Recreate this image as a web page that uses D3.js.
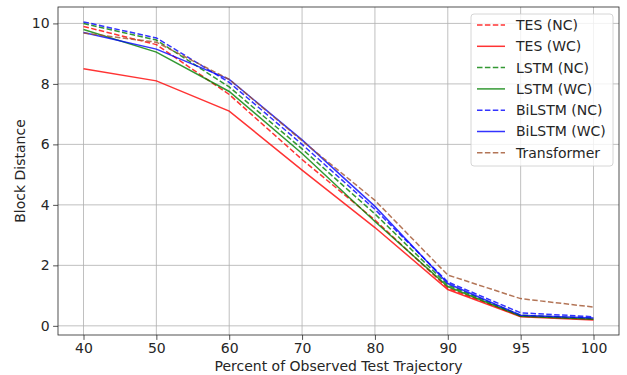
<!DOCTYPE html>
<html>
<head>
<meta charset="utf-8">
<script src="https://cdn.jsdelivr.net/npm/d3@7"></script>
<style>
  body { margin: 0; background: #fff; }
  svg text { font-family: "DejaVu Sans", sans-serif; fill: #262626; }
</style>
</head>
<body>
<div id="chart"></div>
<script>
// x categories (percent of observed trajectory)
var percents = ["40", "50", "60", "70", "80", "90", "95", "100"];

// series values
var tesNC = [9.9, 9.3, 7.65, 5.5, 3.5, 1.25, 0.32, 0.22];
var tesWC = [8.5, 8.1, 7.1, 5.15, 3.25, 1.2, 0.3, 0.19];
var lstmNC = [10.0, 9.45, 7.9, 5.85, 3.7, 1.35, 0.35, 0.25];
var lstmWC = [9.8, 9.05, 7.75, 5.7, 3.45, 1.3, 0.32, 0.22];
var bilstmNC = [10.05, 9.52, 8.05, 6.0, 3.85, 1.45, 0.43, 0.3];
var bilstmWC = [9.7, 9.15, 8.15, 6.15, 3.95, 1.4, 0.35, 0.26];
var transformer = [9.68, 9.38, 8.15, 6.12, 4.15, 1.68, 0.9, 0.62];

var yTicks = [0, 2, 4, 6, 8, 10];

var series = [
    { name: "TES (NC)", values: tesNC, color: "#ff0000", dashed: true },
    { name: "TES (WC)", values: tesWC, color: "#ff0000", dashed: false },
    { name: "LSTM (NC)", values: lstmNC, color: "#008000", dashed: true },
    { name: "LSTM (WC)", values: lstmWC, color: "#008000", dashed: false },
    { name: "BiLSTM (NC)", values: bilstmNC, color: "#0000ff", dashed: true },
    { name: "BiLSTM (WC)", values: bilstmWC, color: "#0000ff", dashed: false },
    { name: "Transformer", values: transformer, color: "#a0522d", dashed: true }
];

var width = 627,
    height = 375,
    margin = { top: 7, right: 8, bottom: 40, left: 58 },
    fontSize = "14px";

var svg = d3.select("#chart")
    .append("svg")
    .attr("width", width)
    .attr("height", height);

// 5% of the data range on each side, like matplotlib
var x = d3.scalePoint()
    .domain(percents)
    .range([margin.left, width - margin.right])
    .padding(0.35);

var yMin = d3.min(series, function(s) { return d3.min(s.values); }),
    yMax = d3.max(series, function(s) { return d3.max(s.values); }),
    pad = (yMax - yMin) * 0.05;

var y = d3.scaleLinear()
    .domain([yMin - pad, yMax + pad])
    .range([height - margin.bottom, margin.top]);

// grid
var grid = svg.append("g");
grid.selectAll(".gx")
    .data(percents)
    .enter()
    .append("line")
    .attr("x1", function(d) { return x(d); })
    .attr("x2", function(d) { return x(d); })
    .attr("y1", margin.top)
    .attr("y2", height - margin.bottom)
    .attr("stroke", "#b0b0b0")
    .attr("stroke-width", 0.8);
grid.selectAll(".gy")
    .data(yTicks)
    .enter()
    .append("line")
    .attr("x1", margin.left)
    .attr("x2", width - margin.right)
    .attr("y1", function(d) { return y(d); })
    .attr("y2", function(d) { return y(d); })
    .attr("stroke", "#b0b0b0")
    .attr("stroke-width", 0.8);

// axes
var xAxis = svg.append("g")
    .attr("transform", "translate(0," + (height - margin.bottom) + ")")
    .call(d3.axisBottom(x).tickSizeOuter(0).tickSize(4.9).tickPadding(3.5));
var yAxis = svg.append("g")
    .attr("transform", "translate(" + margin.left + ",0)")
    .call(d3.axisLeft(y).tickValues(yTicks).tickSizeOuter(0).tickSize(4.9).tickPadding(3.5));

[xAxis, yAxis].forEach(function(a) {
    a.select(".domain").remove();
    a.selectAll("line").attr("stroke", "#262626").attr("stroke-width", 0.8);
    a.selectAll("text").style("font-size", fontSize).attr("fill", "#262626");
});

// lines
var line = d3.line()
    .x(function(d, i) { return x(percents[i]); })
    .y(function(d) { return y(d); });

svg.append("g")
    .selectAll("path")
    .data(series)
    .enter()
    .append("path")
    .attr("d", function(d) { return line(d.values); })
    .attr("fill", "none")
    .attr("stroke", function(d) { return d.color; })
    .attr("stroke-opacity", 0.8)
    .attr("stroke-width", 1.5)
    .attr("stroke-dasharray", function(d) { return d.dashed ? "5.5,2.4" : null; });

// frame
svg.append("rect")
    .attr("x", margin.left)
    .attr("y", margin.top)
    .attr("width", width - margin.left - margin.right)
    .attr("height", height - margin.top - margin.bottom)
    .attr("fill", "none")
    .attr("stroke", "#262626")
    .attr("stroke-width", 0.8);

// axis labels
svg.append("text")
    .attr("x", (margin.left + width - margin.right) / 2)
    .attr("y", 371)
    .attr("text-anchor", "middle")
    .style("font-size", fontSize)
    .text("Percent of Observed Test Trajectory");

svg.append("text")
    .attr("transform", "translate(25," + ((margin.top + height - margin.bottom) / 2) + ") rotate(-90)")
    .attr("text-anchor", "middle")
    .style("font-size", fontSize)
    .text("Block Distance");

// legend
var legend = svg.append("g").attr("transform", "translate(471,14)");
legend.append("rect")
    .attr("width", 142)
    .attr("height", 152)
    .attr("rx", 3)
    .attr("fill", "white")
    .attr("fill-opacity", 0.8)
    .attr("stroke", "#cccccc")
    .attr("stroke-width", 0.8);

var item = legend.selectAll(".item")
    .data(series)
    .enter()
    .append("g")
    .attr("transform", function(d, i) { return "translate(0," + (11 + i * 21.3) + ")"; });

item.append("line")
    .attr("x1", 6)
    .attr("x2", 34)
    .attr("stroke", function(d) { return d.color; })
    .attr("stroke-opacity", 0.8)
    .attr("stroke-width", 1.5)
    .attr("stroke-dasharray", function(d) { return d.dashed ? "5.5,2.4" : null; });

item.append("text")
    .attr("x", 45)
    .attr("dy", "0.35em")
    .style("font-size", fontSize)
    .text(function(d) { return d.name; });
</script>
</body>
</html>
